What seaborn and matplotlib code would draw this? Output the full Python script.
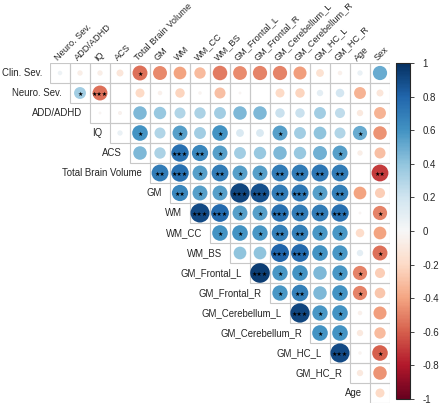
import numpy as np
import pandas as pd
import seaborn as sns
import matplotlib.pyplot as plt
from matplotlib.patches import Rectangle
from matplotlib.colors import Normalize
from matplotlib.cm import ScalarMappable

row_names = ['Clin. Sev.', 'Neuro. Sev.', 'ADD/ADHD', 'IQ', 'ACS', 'Total Brain Volume',
             'GM', 'WM', 'WM_CC', 'WM_BS', 'GM_Frontal_L', 'GM_Frontal_R',
             'GM_Cerebellum_L', 'GM_Cerebellum_R', 'GM_HC_L', 'GM_HC_R', 'Age']
col_names = ['Neuro. Sev.', 'ADD/ADHD', 'IQ', 'ACS', 'Total Brain Volume', 'GM', 'WM',
             'WM_CC', 'WM_BS', 'GM_Frontal_L', 'GM_Frontal_R', 'GM_Cerebellum_L',
             'GM_Cerebellum_R', 'GM_HC_L', 'GM_HC_R', 'Age', 'Sex']

# upper triangle: row i holds the values for columns i..16
corr_rows = [
    [0.05, -0.07, -0.07, -0.12, -0.55, -0.48, -0.40, -0.32, -0.52, -0.47, -0.50, -0.50, -0.42, -0.15, -0.05, 0.07, 0.50],
    [0.35, -0.55, 0.0, -0.20, -0.05, -0.22, -0.03, -0.30, -0.02, 0.0, -0.20, -0.22, 0.10, 0.18, -0.35, -0.12],
    [-0.02, -0.04, 0.45, 0.38, 0.30, 0.32, 0.35, 0.45, 0.45, 0.22, 0.22, 0.35, 0.25, -0.10, -0.35],
    [0.07, 0.60, 0.30, 0.55, 0.35, 0.60, 0.15, 0.15, 0.55, 0.35, 0.40, 0.30, 0.50, -0.45],
    [0.45, 0.32, 0.75, 0.65, 0.55, 0.35, 0.38, 0.45, 0.38, 0.48, 0.55, -0.07, -0.30],
    [0.70, 0.75, 0.55, 0.70, 0.55, 0.55, 0.70, 0.70, 0.72, 0.70, 0.0, -0.70],
    [0.65, 0.55, 0.55, 0.92, 0.88, 0.70, 0.72, 0.55, 0.68, -0.40, -0.25],
    [0.90, 0.78, 0.55, 0.55, 0.75, 0.70, 0.70, 0.75, -0.02, -0.50],
    [0.60, 0.60, 0.58, 0.68, 0.68, 0.58, 0.58, -0.18, -0.40],
    [0.40, 0.40, 0.80, 0.78, 0.60, 0.58, 0.10, -0.55],
    [0.95, 0.58, 0.60, 0.45, 0.58, -0.50, -0.25],
    [0.58, 0.68, 0.45, 0.60, -0.50, -0.28],
    [0.92, 0.58, 0.60, -0.05, -0.42],
    [0.60, 0.60, -0.10, -0.32],
    [0.90, -0.03, -0.60],
    [-0.10, -0.45],
    [-0.20],
]
sig_rows = [
    ['', '', '', '', '*', '', '', '', '', '', '', '', '', '', '', '', ''],
    ['*', '***', '', '', '', '', '', '', '', '', '', '', '', '', '', ''],
    ['', '', '', '', '', '', '', '', '', '', '', '', '', '', ''],
    ['', '*', '', '*', '', '*', '', '', '*', '', '', '', '*', ''],
    ['', '', '***', '**', '*', '', '', '', '', '', '*', '', ''],
    ['**', '***', '*', '**', '*', '*', '**', '**', '**', '**', '', '**'],
    ['**', '*', '*', '***', '***', '**', '***', '*', '**', '', ''],
    ['***', '***', '*', '*', '***', '**', '**', '***', '', '*'],
    ['*', '*', '*', '**', '**', '*', '*', '', ''],
    ['', '', '***', '***', '*', '*', '', '*'],
    ['***', '*', '*', '', '*', '*', ''],
    ['*', '**', '', '*', '*', ''],
    ['***', '*', '*', '', ''],
    ['*', '*', '', ''],
    ['***', '', '*'],
    ['', ''],
    [''],
]

recs = []
for i, (vals, sigs) in enumerate(zip(corr_rows, sig_rows)):
    for k, (v, s) in enumerate(zip(vals, sigs)):
        recs.append({'row': i, 'col': i + k, 'r': v, 'absr': abs(v), 'sig': s})
df = pd.DataFrame(recs)

sns.set_style('white')
plt.rcParams['font.family'] = ['Liberation Sans', 'DejaVu Sans']

fig = plt.figure(figsize=(4.4, 4.08), dpi=100)
ax = fig.add_axes([50 / 440, 5 / 408, 340 / 440, 340 / 408])

# cell grid for the upper triangle
for i in range(len(row_names)):
    for j in range(i, len(col_names)):
        ax.add_patch(Rectangle((j - 0.5, i - 0.5), 1, 1, facecolor='none',
                               edgecolor='#C8C8C8', lw=0.8, zorder=1))

sns.scatterplot(data=df, x='col', y='row', hue='r', size='absr',
                palette='RdBu', hue_norm=(-1, 1), sizes=(0, 210), size_norm=(0, 1),
                linewidth=0, legend=False, ax=ax, zorder=2)

for _, rec in df.iterrows():
    if rec['sig']:
        ax.text(rec['col'], rec['row'] + 0.05, '★' * len(rec['sig']), ha='center', va='center',
                fontsize=4.3, color='black', family='DejaVu Sans', zorder=3)

ax.set_xlim(-0.5, len(col_names) - 0.5)
ax.set_ylim(len(row_names) - 0.5, -0.5)
ax.set_xticks([])
ax.set_yticks([])
ax.set_xlabel('')
ax.set_ylabel('')
for sp in ax.spines.values():
    sp.set_visible(False)

for j, name in enumerate(col_names):
    ax.text(j - 0.05, -0.52, name, rotation=45, ha='left', va='bottom',
            rotation_mode='anchor', fontsize=6.6, clip_on=False)
for i, name in enumerate(row_names):
    ax.text(i - 0.9, i, name, ha='right', va='center', fontsize=6.9, clip_on=False)

cax = fig.add_axes([396 / 440, 9 / 408, 14 / 440, 336 / 408])
sm = ScalarMappable(norm=Normalize(-1, 1), cmap='RdBu')
cb = fig.colorbar(sm, cax=cax)
ticks = np.round(np.arange(-1, 1.01, 0.2), 1)
cb.set_ticks(ticks)
cb.set_ticklabels(['%g' % t if abs(t) > 1e-9 else '0' for t in ticks])
cb.ax.tick_params(labelsize=7, length=3, width=0.6, pad=6)
cb.outline.set_linewidth(0.8)

fig.savefig('out.png', dpi=100)
